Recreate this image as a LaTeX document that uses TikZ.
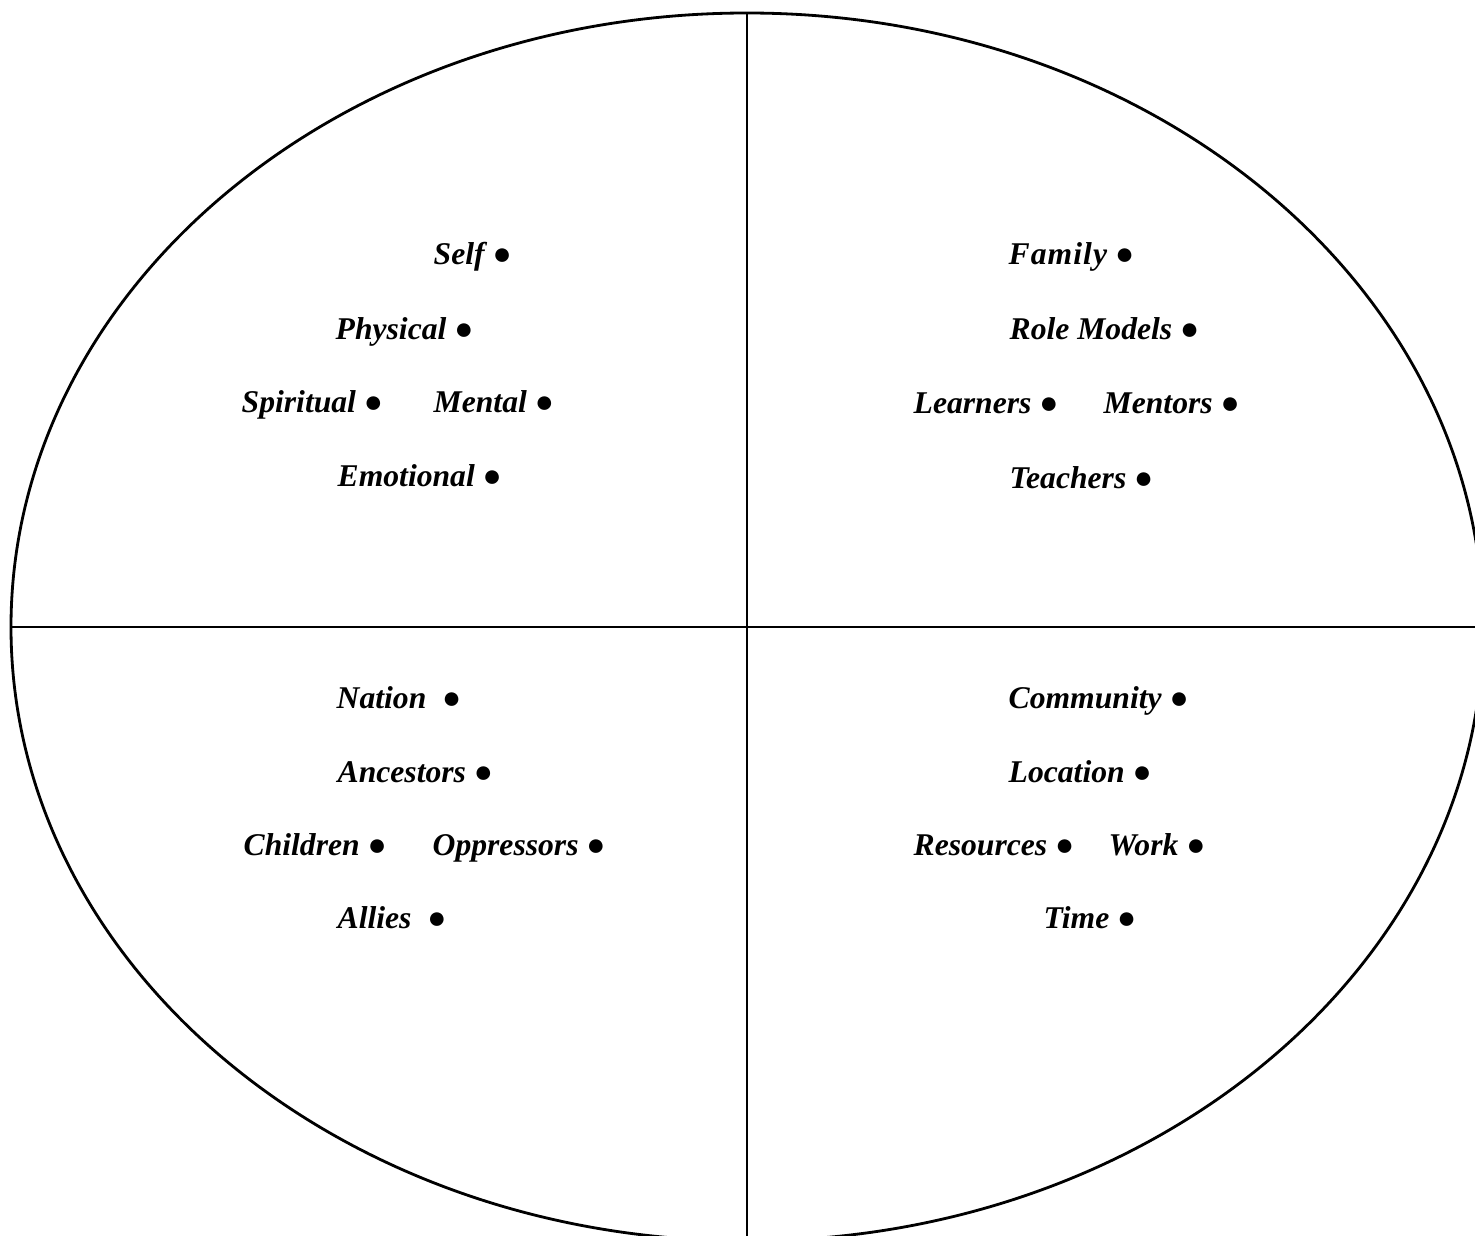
\documentclass[tikz,border=0pt]{standalone}
\usepackage{fontspec}
\setmainfont{Liberation Serif}
\usepackage{tikz}
\usetikzlibrary{positioning, calc}

\begin{document}
\begin{tikzpicture}[
  item/.style={anchor=base west, inner sep=0pt, font=\fontsize{9}{11}\selectfont\bfseries\itshape}
]
  \useasboundingbox (0, 0) rectangle (14.75, -12.36);
  \clip (0, 0) rectangle (14.75, -12.36);

  \coordinate (centre) at (7.47, -6.27);
  \coordinate (top) at (7.47, -0.13);
  \coordinate (bottom) at (7.47, -12.36);
  \coordinate (left) at (0.11, -6.27);
  \coordinate (right) at (14.75, -6.27);

  \draw[thick] (centre) ellipse (7.36 and 6.14);
  \draw[thick] (top) -- (bottom);
  \draw[thick] (left) -- (right);

  % top left
  \node[item] (self) at (4.33, -2.65) {Self ●};
  \node[item] (physical) at (3.35, -3.40) {Physical ●};
  \node[item] (spiritual) at (2.41, -4.13) {Spiritual ●};
  \node[item] (mental) at (4.33, -4.13) {Mental ●};
  \node[item] (emotional) at (3.37, -4.87) {Emotional ●};

  % top right
  \node[item] (family) at (10.08, -2.65) {F\kern0.3pt a\kern0.3pt m\kern0.3pt i\kern0.3pt l\kern0.3pt y ●};
  \node[item] (rolemodels) at (10.09, -3.40) {Role Models ●};
  \node[item] (learners) at (9.13, -4.14) {Learners ●};
  \node[item] (mentors) at (11.03, -4.14) {Mentors ●};
  \node[item] (teachers) at (10.09, -4.88) {Teachers ●};

  % bottom left
  \node[item] (nation) at (3.36, -7.08) {Nation~~●};
  \node[item] (ancestors) at (3.37, -7.82) {Ancestors ●};
  \node[item] (children) at (2.43, -8.55) {Children ●};
  \node[item] (oppressors) at (4.32, -8.55) {Oppressors ●};
  \node[item] (allies) at (3.37, -9.28) {Allies~~●};

  % bottom right
  \node[item] (community) at (10.08, -7.08) {Community ●};
  \node[item] (location) at (10.08, -7.82) {Location ●};
  \node[item] (resources) at (9.13, -8.55) {Resources ●};
  \node[item] (work) at (11.08, -8.55) {Work ●};
  \node[item] (time) at (10.43, -9.28) {Time ●};
\end{tikzpicture}
\end{document}
